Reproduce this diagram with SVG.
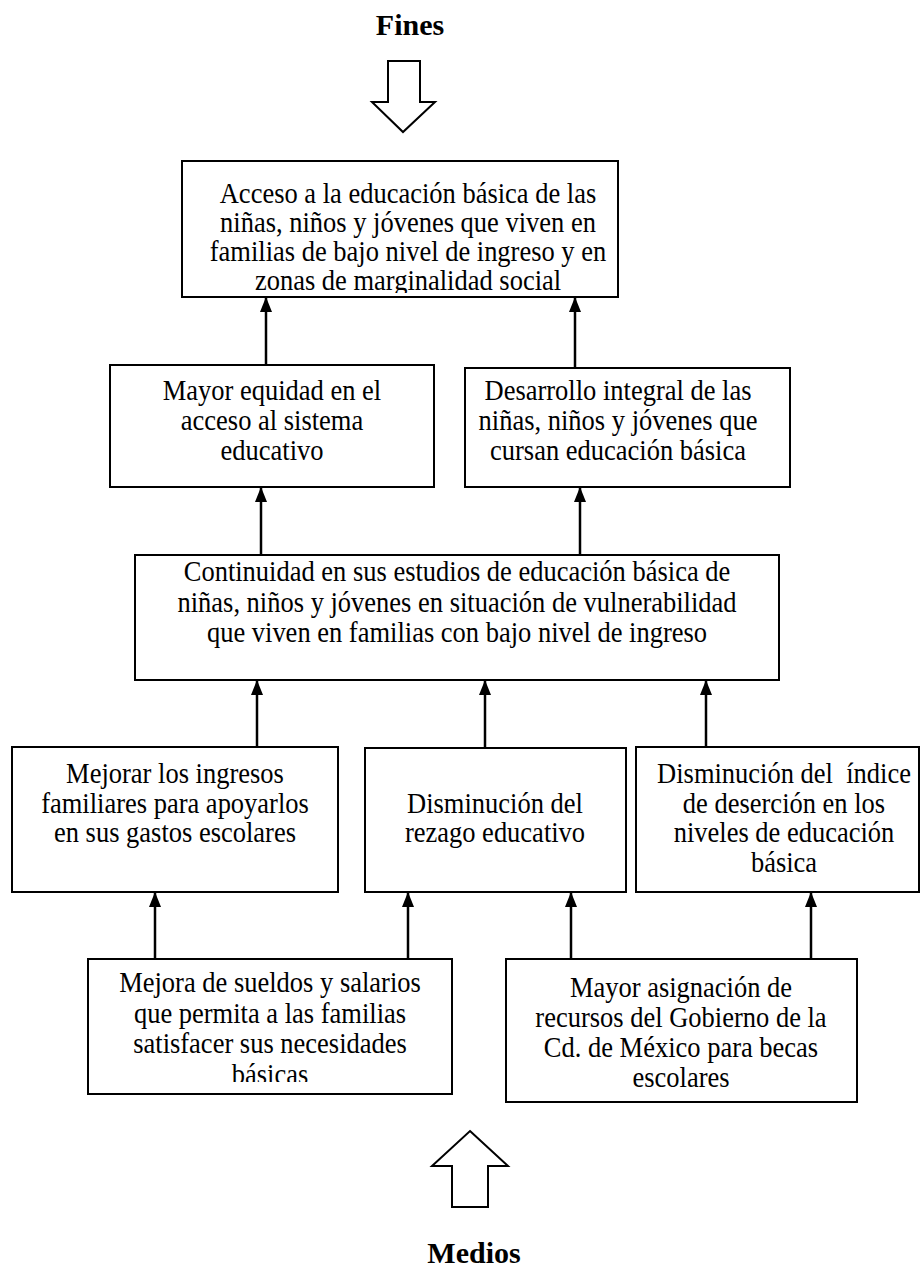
<svg xmlns="http://www.w3.org/2000/svg" width="922" height="1268" viewBox="0 0 922 1268">
<style>
.box{fill:#fff;stroke:#000;stroke-width:2}
.big{fill:#fff;stroke:#000;stroke-width:2;stroke-linejoin:miter}
.t{font-family:"Liberation Serif","Times New Roman",serif;font-size:26.5px;fill:#000;text-anchor:middle;white-space:pre}
.h{font-family:"Liberation Serif","Times New Roman",serif;font-size:30px;font-weight:bold;fill:#000;text-anchor:middle}
.c{stroke:#000;stroke-width:2.5;fill:none;marker-end:url(#ah)}
</style>
<defs>
<marker id="ah" markerUnits="userSpaceOnUse" markerWidth="15" markerHeight="12" refX="15" refY="6" orient="auto">
<path d="M0,0 L15,6 L0,12 Z" fill="#000"/>
</marker>
<clipPath id="clip1"><rect x="182" y="161" width="436" height="132"/></clipPath>
<clipPath id="clip5a"><rect x="88" y="959" width="364" height="123"/></clipPath>
</defs>

<g id="title-fines">
<text class="h" x="410" y="35">Fines</text>
<polygon class="big" points="388,61 420,61 420,102 435,102 403,132 372,102 388,102"/>
</g>

<g id="title-medios">
<polygon class="big" points="470,1131 508,1166 488,1166 488,1207 452,1207 452,1166 432,1166"/>
<text class="h" x="474" y="1263">Medios</text>
</g>

<g id="connectors">
<line class="c" x1="266" y1="365" x2="266" y2="297"/>
<line class="c" x1="575" y1="368" x2="575" y2="297"/>
<line class="c" x1="261" y1="555" x2="261" y2="487"/>
<line class="c" x1="580" y1="555" x2="580" y2="487"/>
<line class="c" x1="257" y1="747" x2="257" y2="680"/>
<line class="c" x1="485" y1="748" x2="485" y2="680"/>
<line class="c" x1="706" y1="747" x2="706" y2="680"/>
<line class="c" x1="155" y1="959" x2="155" y2="892"/>
<line class="c" x1="408" y1="959" x2="408" y2="892"/>
<line class="c" x1="571" y1="959" x2="571" y2="892"/>
<line class="c" x1="811" y1="959" x2="811" y2="892"/>
</g>

<g id="n-acceso">
<rect class="box" x="182" y="161" width="436" height="136"/>
<g clip-path="url(#clip1)">
<text class="t" transform="translate(408 203) scale(1 1.1)">Acceso a la educación básica de las</text>
<text class="t" transform="translate(408 232) scale(1 1.1)">niñas, niños y jóvenes que viven en</text>
<text class="t" transform="translate(408 261) scale(1 1.1)">familias de bajo nivel de ingreso y en</text>
<text class="t" transform="translate(408 290) scale(1 1.1)">zonas de marginalidad social</text>
</g>
</g>

<g id="n-equidad">
<rect class="box" x="110" y="365" width="324" height="122"/>
<text class="t" transform="translate(272 400) scale(1 1.1)">Mayor equidad en el</text>
<text class="t" transform="translate(272 430) scale(1 1.1)">acceso al sistema</text>
<text class="t" transform="translate(272 460) scale(1 1.1)">educativo</text>
</g>

<g id="n-desarrollo">
<rect class="box" x="465" y="368" width="325" height="119"/>
<text class="t" transform="translate(618 400) scale(1 1.1)">Desarrollo integral de las</text>
<text class="t" transform="translate(618 430) scale(1 1.1)">niñas, niños y jóvenes que</text>
<text class="t" transform="translate(618 460) scale(1 1.1)">cursan educación básica</text>
</g>

<g id="n-continuidad">
<rect class="box" x="135" y="555" width="644" height="125"/>
<text class="t" transform="translate(457 581) scale(1 1.1)">Continuidad en sus estudios de educación básica de</text>
<text class="t" transform="translate(457 611.5) scale(1 1.1)">niñas, niños y jóvenes en situación de vulnerabilidad</text>
<text class="t" transform="translate(457 642) scale(1 1.1)">que viven en familias con bajo nivel de ingreso</text>
</g>

<g id="n-ingresos">
<rect class="box" x="12" y="747" width="326" height="145"/>
<text class="t" transform="translate(175 783) scale(1 1.1)">Mejorar los ingresos</text>
<text class="t" transform="translate(175 813) scale(1 1.1)">familiares para apoyarlos</text>
<text class="t" transform="translate(175 842) scale(1 1.1)">en sus gastos escolares</text>
</g>

<g id="n-rezago">
<rect class="box" x="365" y="748" width="261" height="144"/>
<text class="t" transform="translate(495 813) scale(1 1.1)">Disminución del</text>
<text class="t" transform="translate(495 842) scale(1 1.1)">rezago educativo</text>
</g>

<g id="n-desercion">
<rect class="box" x="636" y="747" width="283" height="145"/>
<text class="t" transform="translate(784 783) scale(1 1.1)">Disminución del  índice</text>
<text class="t" transform="translate(784 812.5) scale(1 1.1)">de deserción en los</text>
<text class="t" transform="translate(784 842) scale(1 1.1)">niveles de educación</text>
<text class="t" transform="translate(784 871.5) scale(1 1.1)">básica</text>
</g>

<g id="n-sueldos">
<rect class="box" x="88" y="959" width="364" height="135"/>
<g clip-path="url(#clip5a)">
<text class="t" transform="translate(270 992) scale(1 1.1)">Mejora de sueldos y salarios</text>
<text class="t" transform="translate(270 1022.5) scale(1 1.1)">que permita a las familias</text>
<text class="t" transform="translate(270 1053) scale(1 1.1)">satisfacer sus necesidades</text>
<text class="t" transform="translate(270 1083.5) scale(1 1.1)">básicas</text>
</g>
</g>

<g id="n-recursos">
<rect class="box" x="506" y="959" width="351" height="143"/>
<text class="t" transform="translate(681 997) scale(1 1.1)">Mayor asignación de</text>
<text class="t" transform="translate(681 1027) scale(1 1.1)">recursos del Gobierno de la</text>
<text class="t" transform="translate(681 1057) scale(1 1.1)">Cd. de México para becas</text>
<text class="t" transform="translate(681 1087) scale(1 1.1)">escolares</text>
</g>
</svg>
